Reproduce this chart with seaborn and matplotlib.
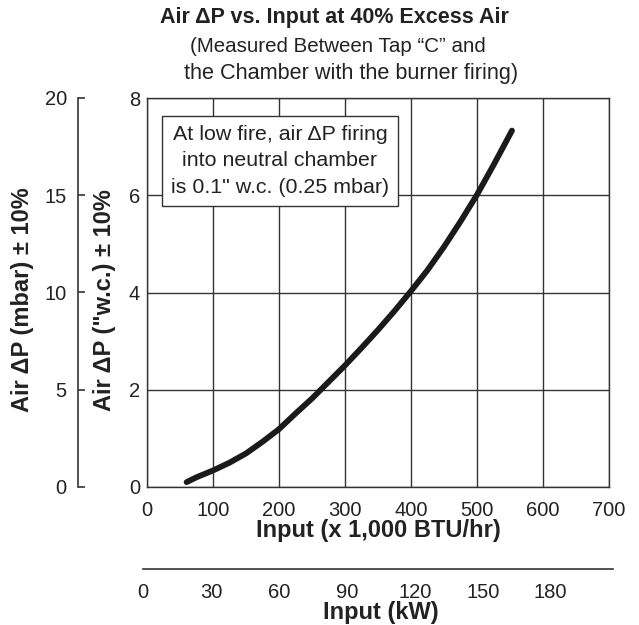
import numpy as np
import pandas as pd
import matplotlib
matplotlib.use("Agg")
import matplotlib.pyplot as plt
import seaborn as sns

# values
input_kbtu = [60, 75, 100, 125, 150, 175, 200, 225, 250, 275, 300,
              325, 350, 375, 400, 425, 450, 475, 500, 525, 553]
dp_wc = [0.1, 0.2, 0.34, 0.5, 0.69, 0.93, 1.19, 1.51, 1.82, 2.16, 2.5,
         2.86, 3.23, 3.62, 4.03, 4.46, 4.94, 5.46, 6.01, 6.62, 7.33]

x_ticks = [0, 100, 200, 300, 400, 500, 600, 700]
y_ticks = [0, 2, 4, 6, 8]
mbar_ticks = [0, 5, 10, 15, 20]
kw_ticks = [0, 30, 60, 90, 120, 150, 180]

df = pd.DataFrame({"input": input_kbtu, "dp": dp_wc})

sns.set_style("white")
plt.rcParams['font.family'] = ['Liberation Sans', 'DejaVu Sans']

W, H = 639, 625
fig = plt.figure(figsize=(W / 100, H / 100), dpi=100)
edge = "#333333"
ink = "#222222"

def fx(px):
    return px / W

def fy(py):
    return 1 - py / H

# main plot area
ax = fig.add_axes([fx(147), fy(487), (609 - 147) / W, (487 - 98) / H])
sns.lineplot(data=df, x="input", y="dp", ax=ax, color="#1a1a1a", linewidth=4.2)
ax.set_xlim(0, 700)
ax.set_ylim(0, 8)
ax.set_xticks(x_ticks)
ax.set_yticks(y_ticks)
ax.grid(True, color=edge, linewidth=1.0)
ax.tick_params(axis="both", length=0, labelsize=14.5, colors=ink)
ax.tick_params(axis="x", pad=10)
ax.tick_params(axis="y", pad=5)
for s in ax.spines.values():
    s.set_color(edge)
    s.set_linewidth(1.0)
ax.set_xlabel("")
ax.set_ylabel("")

# mbar axis on the far left
ax2 = ax.twinx()
ax2.set_ylim(0, 20)
ax2.set_yticks(mbar_ticks)
for k in ["top", "bottom", "right"]:
    ax2.spines[k].set_visible(False)
ax2.spines["left"].set_visible(True)
ax2.spines["left"].set_position(("outward", 49.7))
ax2.spines["left"].set_color(edge)
ax2.spines["left"].set_linewidth(1.2)
ax2.yaxis.set_ticks_position("left")
ax2.yaxis.set_label_position("left")
ax2.tick_params(axis="y", direction="in", length=5, width=1.2, color=edge,
                labelsize=14.5, pad=8, labelcolor=ink)

# note box
ax.text(201.5, 6.71, "At low fire, air \u0394P firing\ninto neutral chamber\nis 0.1\" w.c. (0.25 mbar)",
        ha="center", va="center", fontsize=15.4, color=ink, linespacing=1.5,
        bbox=dict(boxstyle="square,pad=0.42", fc="white", ec=edge, lw=1.0))

# kW axis under the main plot
axk = fig.add_axes([fx(143), fy(569), (613 - 143) / W, 0.0001])
axk.set_xlim(0, 207.5)
axk.set_xticks(kw_ticks)
axk.set_yticks([])
for k in ["top", "left", "right"]:
    axk.spines[k].set_visible(False)
axk.spines["bottom"].set_color(edge)
axk.spines["bottom"].set_linewidth(1.2)
axk.tick_params(axis="x", direction="in", length=6, width=1.2, color=edge,
                labelsize=14.5, pad=10, labelcolor=ink)
axk.patch.set_alpha(0)

# titles and axis labels
fig.text(fx(334), fy(18), "Air \u0394P vs. Input at 40% Excess Air", ha="center", va="center",
         fontsize=15.5, fontweight="bold", color=ink)
fig.text(fx(338), fy(47), "(Measured Between Tap \u201cC\u201d and", ha="center", va="center",
         fontsize=14.8, color=ink)
fig.text(fx(351), fy(74), "the Chamber with the burner firing)", ha="center", va="center",
         fontsize=15.6, color=ink)
fig.text(fx(378), fy(531), "Input (x 1,000 BTU/hr)", ha="center", va="center",
         fontsize=17, fontweight="bold", color=ink)
fig.text(fx(381), fy(613), "Input (kW)", ha="center", va="center",
         fontsize=17, fontweight="bold", color=ink)
fig.text(fx(105), fy(300), "Air \u0394P (\"w.c.) \u00b1 10%", ha="center", va="center",
         rotation=90, fontsize=17, fontweight="bold", color=ink)
fig.text(fx(23), fy(300), "Air \u0394P (mbar) \u00b1 10%", ha="center", va="center",
         rotation=90, fontsize=17, fontweight="bold", color=ink)

fig.savefig("out.png", dpi=100, facecolor="white")
